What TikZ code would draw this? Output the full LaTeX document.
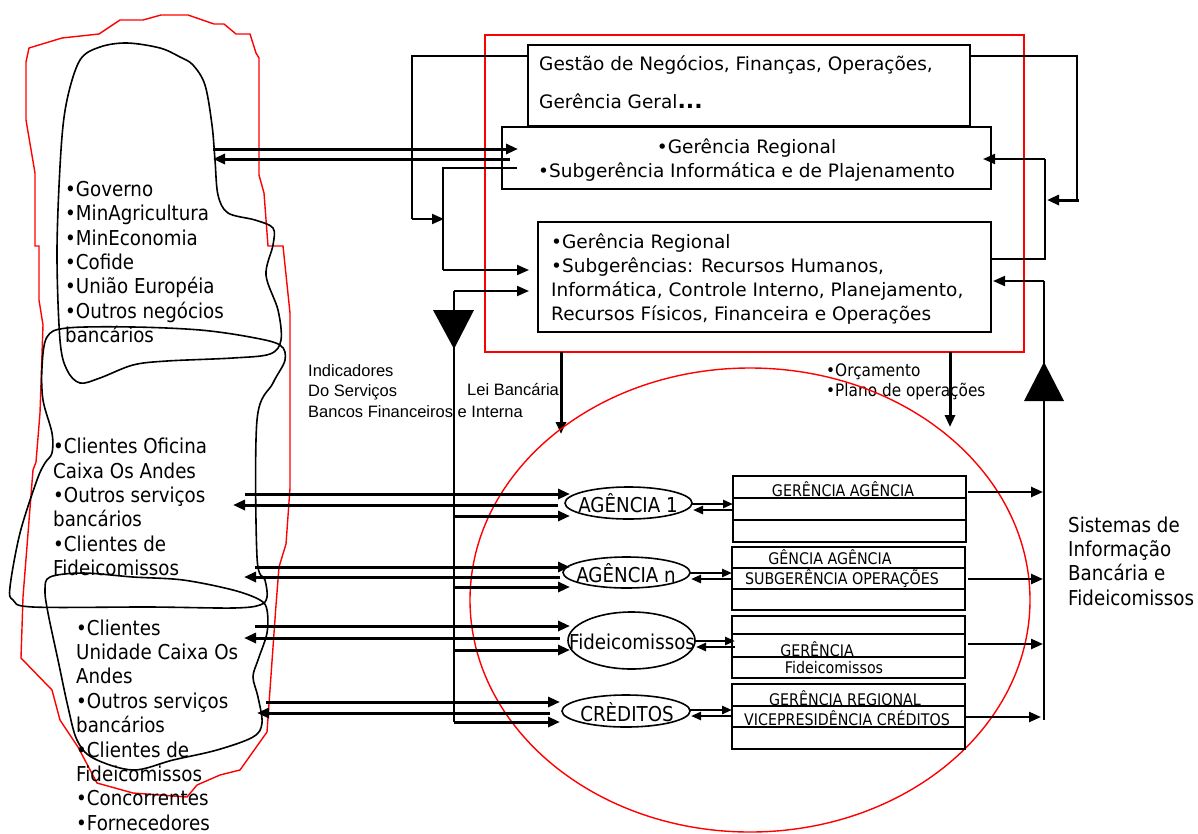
\documentclass[tikz,border=0pt]{standalone}
\usepackage{fontspec}
\setmainfont{DejaVu Sans}
\newfontfamily\tah[FakeStretch=0.89]{DejaVu Sans}
\newfontfamily\ari{Liberation Sans}
\usetikzlibrary{shapes.geometric,arrows.meta}
\tikzset{
  box/.style={draw, line width=1.7pt, inner sep=0pt, outer sep=0pt, anchor=north west},
  redbox/.style={draw=red, line width=1.2pt, inner sep=0pt, outer sep=0pt, anchor=north west},
  ell/.style={draw, ellipse, line width=1.6pt, inner sep=0pt, outer sep=0pt},
  arr/.style={-{Triangle[length=12pt,width=10pt]}, line width=3pt},
  tarr/.style={-{Triangle[length=12pt,width=10pt]}, line width=2pt},
  sarr/.style={-{Triangle[length=10pt,width=8pt]}, line width=2.6pt},
  thin/.style={line width=2pt},
  lst/.style={font=\tah\fontsize{20.5}{24.4}\selectfont, align=left, inner sep=0pt, anchor=west},
  boxtxt/.style={font=\fontsize{18.5}{24.3}\selectfont, inner sep=0pt},
  rowtxt/.style={font=\tah\fontsize{16}{18}\selectfont, inner sep=0pt},
  elltxt/.style={font=\tah\fontsize{20.5}{22}\selectfont, inner sep=0pt},
  blob/.style={line width=1.6pt},
}
\begin{document}
\begin{tikzpicture}[x=1pt,y=-1pt]
\useasboundingbox (0,0) rectangle (1198,833);

% ---------- left red outline and black blobs ----------
\draw[red, line width=1.4pt] (29,48) -- (62,38) -- (99,34) -- (120,20) -- (143,20) -- (161,15) -- (188,15) -- (214,24) -- (224,24) -- (236,34) -- (250,34) -- (256,53) -- (259,58) -- (259,175) -- (264,193) -- (268,246) -- (283,246) -- (290,313) -- (290,488) -- (286,544) -- (279,567) -- (276,605) -- (267,732) -- (240,770) -- (220,775) -- (197,785) -- (187,797) -- (133,793) -- (97,783) -- (78,747) -- (60,720) -- (52,690) -- (21,658) -- (23,597) -- (33,470) -- (36,462) -- (40,413) -- (43,325) -- (39,300) -- (39,246) -- (35,246) -- (35,173) -- (26,120) -- (26,62) -- cycle;

\draw[blob] plot[smooth cycle, tension=0.55] coordinates {(127,43) (100,47) (80,60) (67,100) (61,150) (57,250) (60,340) (67,370) (80,383) (100,378) (133,365) (167,361) (233,358) (270,354) (281,340) (278,310) (266,275) (273,245) (273,228) (255,220) (228,213) (218,195) (215,160) (212,125) (205,85) (193,65) (180,57) (160,48)};

\draw[blob] plot[smooth cycle, tension=0.55] coordinates {(67,328) (133,327) (200,330) (250,337) (280,345) (285,360) (273,383) (257,420) (257,557) (265,580) (267,597) (260,605) (233,608) (150,607) (33,607) (13,600) (10,587) (20,533) (37,480) (45,463) (52,453) (52,433) (43,400) (42,367) (47,337)};

\draw[blob] plot[smooth cycle, tension=0.55] coordinates {(50,577) (45,590) (48,613) (58,660) (68,707) (77,740) (93,758) (133,770) (173,760) (217,750) (253,737) (262,723) (258,697) (253,677) (258,660) (267,633) (267,610) (260,600) (233,590) (183,580) (133,577) (83,573)};

% ---------- left lists ----------
\node[lst] (L1) at (65,262) {•Governo\\•MinAgricultura\\•MinEconomia\\•Cofide\\•União Européia\\•Outros negócios\\bancários};
\node[lst] (L2) at (53,507) {•Clientes Oficina\\Caixa Os Andes\\•Outros serviços\\bancários\\•Clientes de\\Fideicomissos};
\node[lst] (L3) at (76,725) {•Clientes\\Unidade Caixa Os\\Andes\\•Outros serviços\\bancários\\•Clientes de\\Fideicomissos\\•Concorrentes\\•Fornecedores};

% ---------- top boxes ----------
\node[redbox, minimum width=539pt, minimum height=317pt] (rb) at (485,35) {};
\node[box, fill=white, minimum width=442pt, minimum height=81pt] (b1) at (528,45) {};
\node[box, fill=white, minimum width=489pt, minimum height=62pt] (b2) at (502,127) {};
\node[box, fill=white, minimum width=453pt, minimum height=110pt] (b3) at (538,222) {};
\draw[red, line width=1.2pt] (485,127) -- (485,189);

\node[boxtxt, anchor=west] (t1a) at (539,65) {Gestão de Negócios, Finanças, Operações,};
\node[boxtxt, anchor=west] (t1b) at (539,101) {Gerência Geral{\fontsize{22}{24}\selectfont\textbf{...}}};
\node[boxtxt, align=center] (t2) at (746.5,160) {•Gerência Regional\\•Subgerência Informática e de Plajenamento};
\node[boxtxt, align=left, anchor=west] (t3) at (551,279) {•Gerência Regional\\•Subgerências: Recursos Humanos,\\Informática, Controle Interno, Planejamento,\\Recursos Físicos, Financeira e Operações};

% ---------- top connectors ----------
\coordinate (lA) at (213,149);
\coordinate (lB) at (213,159);
\draw[arr] (lA) -- (b2.west |- 0,149) -- ++(16,0);
\draw[arr] (510,159) -- (lB);
\draw[thin] (b1.west |- 0,56) -- (412,56) -- (412,219);
\draw[tarr] (412,219) -- (444,219);
\draw[thin] (517,168) -- (443,168) -- (443,270);
\draw[tarr] (443,270) -- (529,270);
\draw[thin] (454,722) -- (454,291);
\draw[tarr] (454,291) -- (529,291);
\fill (433,310) -- (474,310) -- (454,349) -- cycle;

\draw[thin] (b1.east |- 0,56) -- (1077,56) -- (1077,200);
\draw[arr] (1079,200) -- (1047,200);
\draw[thin] (b3.east |- 0,259) -- (1045,259) -- (1045,159);
\draw[tarr] (1045,159) -- (983,159);
\draw[thin] (1044,720) -- (1044,281);
\draw[tarr] (1044,281) -- (993,281);
\fill (1024,401) -- (1064,401) -- (1044,362) -- cycle;

\draw[arr] (561,352) -- (561,434);
\draw[arr] (950,352) -- (950,427);

% ---------- labels ----------
\node[font=\ari\fontsize{16.5}{20.3}\selectfont, align=left, anchor=west, inner sep=0pt] (ind) at (308,391) {Indicadores\\Do Serviços\\Bancos Financeiros e Interna};
\node[font=\ari\fontsize{16.5}{20.3}\selectfont, anchor=west, inner sep=0pt] (lei) at (467,389) {Lei Bancária};
\node[font=\tah\fontsize{17.2}{20}\selectfont, align=left, anchor=west, inner sep=0pt] (orc) at (826,382) {•Orçamento\\•Plano de operações};

% ---------- red ellipse ----------
\draw[red, line width=1.4pt] (750,600) ellipse [x radius=280, y radius=232];

% ---------- agency ellipses ----------
\node[ell, minimum width=127pt, minimum height=32pt] (e1) at (628.5,503) {};
\node[ell, minimum width=127pt, minimum height=31pt] (e2) at (626.5,572.5) {};
\node[ell, minimum width=127pt, minimum height=57pt] (e3) at (631.5,640.5) {};
\node[ell, minimum width=128pt, minimum height=32pt] (e4) at (626,711) {};
\node[elltxt] (e1t) at (628,503) {AGÊNCIA 1};
\node[elltxt] (e2t) at (626,573) {AGÊNCIA n};
\node[elltxt] (e3t) at (632,642) {Fideicomissos};
\node[elltxt] (e4t) at (627,712) {CRÈDITOS};

% ---------- arrows from left to ellipses ----------
\draw[arr] (245,494) -- (570,494);
\draw[arr] (558,505) -- (233,505);
\draw[arr] (454,516) -- (570,516);
\draw[arr] (255,567) -- (570,567);
\draw[arr] (560,577) -- (244,577);
\draw[arr] (454,587) -- (570,587);
\draw[arr] (255,626) -- (570,626);
\draw[arr] (560,638) -- (244,638);
\draw[arr] (454,650) -- (570,650);
\draw[arr] (266,702) -- (560,702);
\draw[arr] (550,713) -- (257,713);
\draw[arr] (454,722) -- (560,722);

% ---------- rectangles ----------
\node[box, minimum width=233pt, minimum height=66pt] (r1) at (733,476) {};
\node[box, minimum width=233pt, minimum height=63pt] (r2) at (732,547) {};
\node[box, minimum width=233pt, minimum height=62pt] (r3) at (732,616) {};
\node[box, minimum width=233pt, minimum height=65pt] (r4) at (732,684) {};
\draw[line width=1.6pt] (r1.west |- 0,498) -- (r1.east |- 0,498) (r1.west |- 0,520) -- (r1.east |- 0,520);
\draw[line width=1.6pt] (r2.west |- 0,568) -- (r2.east |- 0,568) (r2.west |- 0,589) -- (r2.east |- 0,589);
\draw[line width=1.6pt] (r3.west |- 0,634) -- (r3.east |- 0,634) (r3.west |- 0,657) -- (r3.east |- 0,657);
\draw[line width=1.6pt] (r4.west |- 0,706) -- (r4.east |- 0,706) (r4.west |- 0,727) -- (r4.east |- 0,727);
\node[rowtxt] (r1a) at (843,489) {GERÊNCIA AGÊNCIA};
\node[rowtxt] (r2a) at (830,557) {GÊNCIA AGÊNCIA};
\node[rowtxt] (r2b) at (842,579) {SUBGERÊNCIA OPERAÇÕES};
\node[rowtxt] (r3a) at (817,649) {GERÊNCIA};
\node[rowtxt] (r3b) at (834,668) {Fideicomissos};
\node[rowtxt] (r4a) at (845,698) {GERÊNCIA REGIONAL};
\node[rowtxt] (r4b) at (847,718) {VICEPRESIDÊNCIA CRÉDITOS};

% ---------- ellipse <-> rectangle ----------
\draw[sarr] (e1.east |- 0,504) -- (r1.west |- 0,504);
\draw[sarr] (r1.west |- 0,510) -- (693,510);
\draw[sarr] (e2.east |- 0,573) -- (r2.west |- 0,573);
\draw[sarr] (r2.west |- 0,579) -- (691,579);
\draw[sarr] (e3.east |- 0,641) -- (735,641);
\draw[sarr] (735,647) -- (696,647);
\draw[sarr] (e4.east |- 0,710) -- (r4.west |- 0,710);
\draw[sarr] (r4.west |- 0,716) -- (691,716);

% ---------- rectangles -> information systems ----------
\draw[tarr, line width=2.4pt] (968,492) -- (1043,492);
\draw[tarr, line width=2.4pt] (968,579) -- (1043,579);
\draw[tarr, line width=2.4pt] (968,644) -- (1043,644);
\draw[tarr, line width=2.4pt] (r4.east |- 0,717) -- (1041,717);

\node[lst] (sis) at (1068,561) {Sistemas de\\Informação\\Bancária e\\Fideicomissos};
\end{tikzpicture}
\end{document}
